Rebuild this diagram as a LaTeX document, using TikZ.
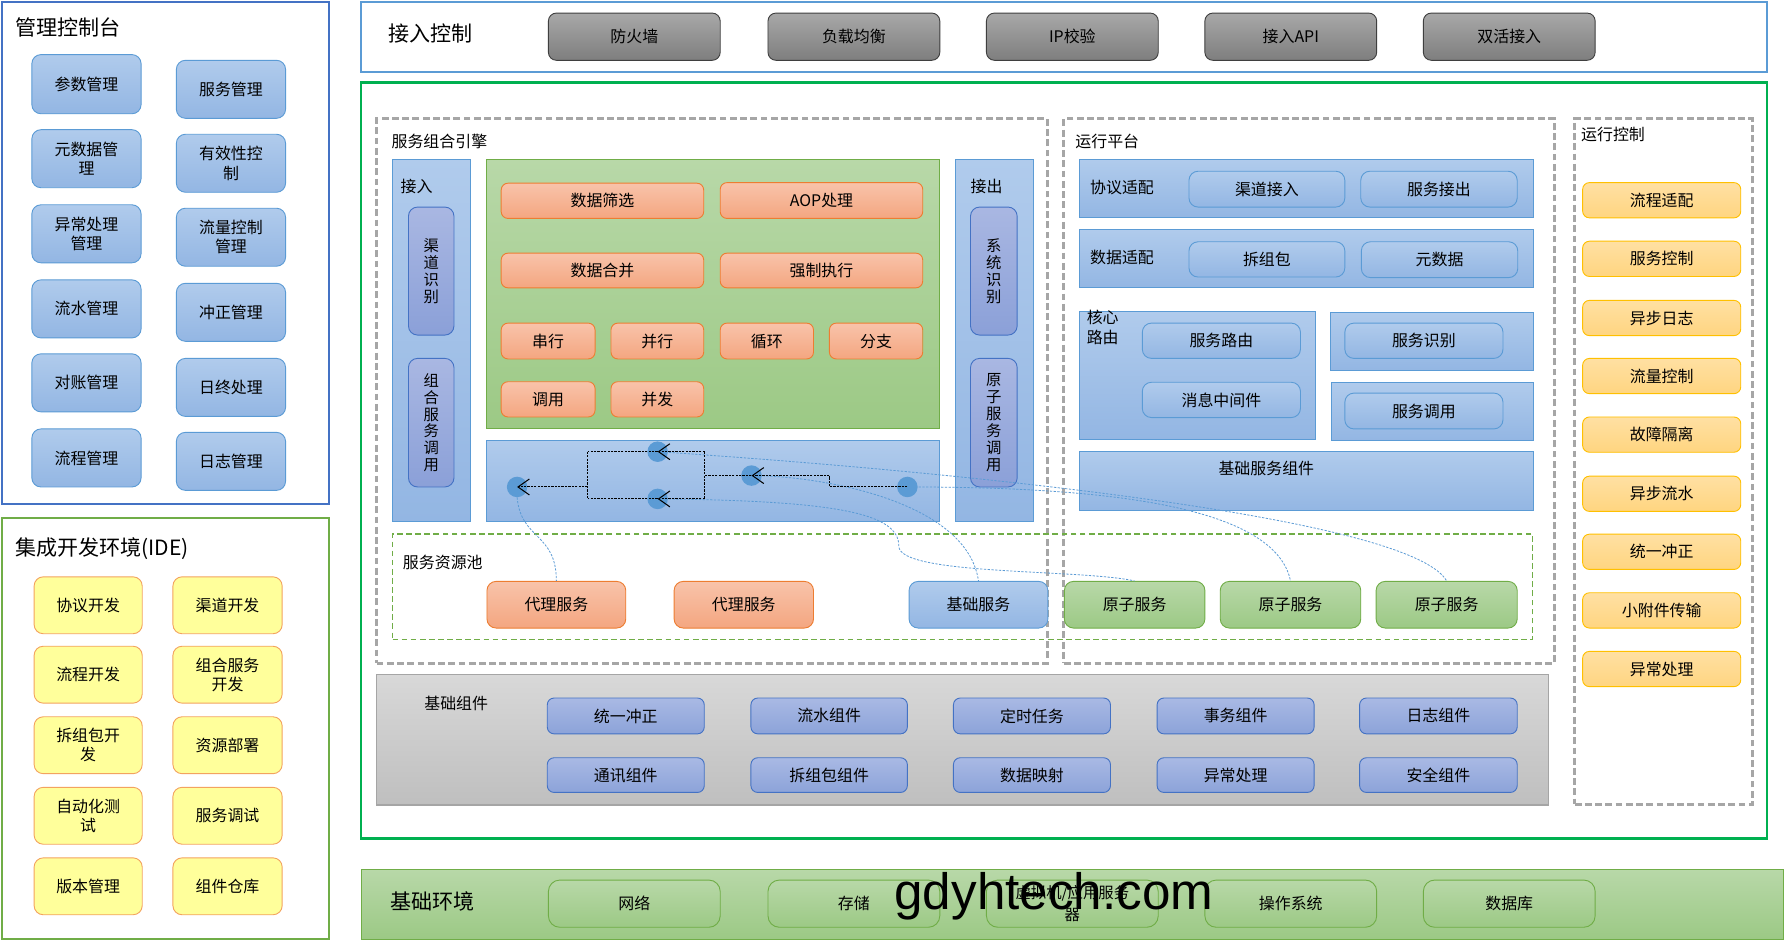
\documentclass[tikz,border=0pt]{standalone}
\usepackage{fontspec}
\setmainfont{Noto Sans CJK SC}
\newfontfamily\wmfont{Liberation Sans}
\usetikzlibrary{arrows.meta}
\definecolor{cMgmt}{HTML}{4472C4}
\definecolor{cAcc}{HTML}{5B9BD5}
\definecolor{cIDE}{HTML}{70AD47}
\definecolor{cMain}{HTML}{00B050}
\definecolor{bTop}{HTML}{B0CBEC}
\definecolor{bBot}{HTML}{93B6E3}
\definecolor{pTop}{HTML}{A9B7E2}
\definecolor{pBot}{HTML}{8BA0D8}
\definecolor{sTop}{HTML}{F8C3AA}
\definecolor{sBot}{HTML}{F4A680}
\definecolor{sBor}{HTML}{ED7D31}
\definecolor{gTop}{HTML}{B8D8A8}
\definecolor{gBot}{HTML}{9CC985}
\definecolor{yFill}{HTML}{FFFF9B}
\definecolor{yBor}{HTML}{F3A35F}
\definecolor{oTop}{HTML}{FFE0A3}
\definecolor{oBot}{HTML}{FFD580}
\definecolor{oBor}{HTML}{FFC000}
\definecolor{gyTop}{HTML}{A8A8A8}
\definecolor{gyBot}{HTML}{7E7E7E}
\definecolor{gyBor}{HTML}{3F3F3F}
\definecolor{bgTop}{HTML}{D8D8D8}
\definecolor{bgBot}{HTML}{BFBFBF}
\definecolor{bgBor}{HTML}{A5A5A5}
\definecolor{cbTop}{HTML}{A9B9E4}
\definecolor{cbBot}{HTML}{8CA3D9}
\definecolor{dGray}{HTML}{A6A6A6}
\newcommand\rbox[7]{\node[#1, minimum width={(#5)-(#3)}, minimum height={(#6)-(#4)}] (#2) at ({((#3)+(#5))/2},{((#4)+(#6))/2}) {#7};}
\begin{document}
\begin{tikzpicture}[x=1pt,y=-1pt,
  every node/.style={font=\fontsize{14}{17}\selectfont, inner sep=0pt, align=center},
  outerbox/.style={draw, line width=2pt, fill=white},
  mbtn/.style={rounded corners=8pt, draw=cAcc, line width=0.8pt, top color=bTop, bottom color=bBot},
  ybtn/.style={rounded corners=8pt, draw=yBor, line width=0.8pt, fill=yFill},
  gbtn/.style={rounded corners=7pt, draw=gyBor, line width=0.8pt, top color=gyTop, bottom color=gyBot},
  panel/.style={draw=cAcc, line width=0.8pt, top color=bTop, bottom color=bBot},
  pill/.style={rounded corners=8pt, draw=cMgmt, line width=0.8pt, top color=pTop, bottom color=pBot, font=\fontsize{13.5}{14.8}\selectfont},
  sbtn/.style={rounded corners=6pt, draw=sBor, line width=0.8pt, top color=sTop, bottom color=sBot},
  grbtn/.style={rounded corners=8pt, draw=cIDE, line width=0.8pt, top color=gTop, bottom color=gBot},
  grpanel/.style={draw=cIDE, line width=0.8pt, top color=gTop, bottom color=gBot},
  obtn/.style={rounded corners=6pt, draw=oBor, line width=0.8pt, top color=oTop, bottom color=oBot},
  cbtn/.style={rounded corners=6pt, draw=cMgmt, line width=0.8pt, top color=cbTop, bottom color=cbBot},
  ebtn/.style={rounded corners=10pt, draw=cIDE, line width=0.8pt, top color=gTop, bottom color=gBot},
  dashgray/.style={draw=dGray, line width=2.5pt, dash pattern=on 6pt off 3pt},
  dashgreen/.style={draw=cIDE, line width=1.6pt, dash pattern=on 5pt off 3pt},
  title/.style={anchor=west, font=\fontsize{18.5}{20}\selectfont},
  lbl/.style={anchor=west},
  dotnode/.style={circle, fill=cAcc, minimum size=18pt, draw=none},
  flow/.style={draw=black, line width=0.9pt, dash pattern=on 2pt off 1pt},
  fltip/.style={-{Straight Barb[length=10pt,width=14pt]}},
  conn/.style={draw=cAcc, line width=0.7pt, dash pattern=on 2pt off 1.3pt}
]
\useasboundingbox (0,0) rectangle (1568,826);
\fill[white] (0,0) rectangle (1568,826);

% ===== 管理控制台 =====
\rbox{outerbox, draw=cMgmt}{mgmt}{1.5}{1.5}{289}{443}{}
\node[title] (tMgmt) at (13,24) {管理控制台};
\rbox{mbtn}{m1}{28}{48}{124}{100}{参数管理}
\rbox{mbtn}{m2}{28}{114}{124}{165}{元数据管\\理}
\rbox{mbtn}{m3}{28}{180}{124}{231}{异常处理\\管理}
\rbox{mbtn}{m4}{28}{246}{124}{297}{流水管理}
\rbox{mbtn}{m5}{28}{311}{124}{362}{对账管理}
\rbox{mbtn}{m6}{28}{377}{124}{428}{流程管理}
\rbox{mbtn}{n1}{155}{53}{251}{104}{服务管理}
\rbox{mbtn}{n2}{155}{118}{251}{169}{有效性控\\制}
\rbox{mbtn}{n3}{155}{183}{251}{234}{流量控制\\管理}
\rbox{mbtn}{n4}{155}{249}{251}{300}{冲正管理}
\rbox{mbtn}{n5}{155}{315}{251}{366}{日终处理}
\rbox{mbtn}{n6}{155}{380}{251}{431}{日志管理}

% ===== IDE =====
\rbox{outerbox, draw=cIDE}{ide}{1.5}{455}{289}{825}{}
\node[title] (tIde) at (13,482.5) {集成开发环境(IDE)};
\rbox{ybtn}{i1}{30}{507}{125}{557}{协议开发}
\rbox{ybtn}{i2}{30}{568}{125}{618}{流程开发}
\rbox{ybtn}{i3}{30}{630}{125}{680}{拆组包开\\发}
\rbox{ybtn}{i4}{30}{692}{125}{742}{自动化测\\试}
\rbox{ybtn}{i5}{30}{754}{125}{804}{版本管理}
\rbox{ybtn}{j1}{152}{507}{248}{557}{渠道开发}
\rbox{ybtn}{j2}{152}{568}{248}{618}{组合服务\\开发}
\rbox{ybtn}{j3}{152}{630}{248}{680}{资源部署}
\rbox{ybtn}{j4}{152}{692}{248}{742}{服务调试}
\rbox{ybtn}{j5}{152}{754}{248}{804}{组件仓库}

% ===== 接入控制 =====
\rbox{outerbox, draw=cAcc}{acc}{317}{1.5}{1553}{63.5}{}
\node[title] (tAcc) at (341,29.5) {接入控制};
\rbox{gbtn}{g1}{482}{11.5}{633}{53}{防火墙}
\rbox{gbtn}{g2}{675}{11.5}{826}{53}{负载均衡}
\rbox{gbtn}{g3}{867}{11.5}{1018}{53}{IP校验}
\rbox{gbtn}{g4}{1059}{11.5}{1210}{53}{接入API}
\rbox{gbtn}{g5}{1251}{11.5}{1402}{53}{双活接入}

% ===== main green box =====
\rbox{outerbox, draw=cMain}{mainbox}{317}{72.5}{1553}{737}{}

% ----- 服务组合引擎 -----
\rbox{dashgray}{engine}{331}{104.5}{920.5}{583}{}
\node[lbl] (tEngine) at (344,124) {服务组合引擎};
\rbox{panel}{inP}{345}{140}{413.5}{458.5}{}
\node[lbl] (tIn) at (352,164) {接入};
\rbox{pill}{pl1}{359}{182}{399}{294.5}{渠\\道\\识\\别}
\rbox{pill}{pl2}{359}{315}{399}{428}{组\\合\\服\\务\\调\\用}
\rbox{grpanel}{grP}{427.5}{140}{825.5}{377}{}
\rbox{sbtn}{s1}{440.5}{161}{618.5}{192}{数据筛选}
\rbox{sbtn}{s2}{633}{160.5}{811}{192}{AOP处理}
\rbox{sbtn}{s3}{440.5}{222.5}{618.5}{253}{数据合并}
\rbox{sbtn}{s4}{633}{222.5}{811}{253}{强制执行}
\rbox{sbtn}{s5}{440.5}{284}{523}{315.5}{串行}
\rbox{sbtn}{s6}{537}{284}{618.5}{315.5}{并行}
\rbox{sbtn}{s7}{633}{284}{715}{315.5}{循环}
\rbox{sbtn}{s8}{729}{284}{811}{315.5}{分支}
\rbox{sbtn}{s9}{440.5}{335.5}{523}{366.5}{调用}
\rbox{sbtn}{s10}{537}{335.5}{618.5}{366.5}{并发}
\rbox{panel}{flP}{427.5}{387}{825.5}{458.5}{}
\rbox{panel}{outP}{840}{140}{908.5}{458.5}{}
\node[lbl] (tOut) at (853,164) {接出};
\rbox{pill}{pl3}{853}{182}{894}{294.5}{系\\统\\识\\别}
\rbox{pill}{pl4}{853}{315}{894}{428}{原\\子\\服\\务\\调\\用}

% ----- 运行平台 -----
\rbox{dashgray}{runtime}{935}{104.5}{1366}{583}{}
\node[lbl] (tRun) at (945,124.5) {运行平台};
\rbox{panel}{pA}{949}{140}{1348}{191.5}{}
\node[lbl] (tA) at (958,164.5) {协议适配};
\rbox{mbtn}{a1}{1045}{150.5}{1182}{182}{渠道接入}
\rbox{mbtn}{a2}{1196}{150.5}{1333.5}{182}{服务接出}
\rbox{panel}{pB}{949}{201.5}{1348}{253}{}
\node[lbl] (tB) at (958,226.5) {数据适配};
\rbox{mbtn}{b1}{1045}{212.5}{1182}{243.5}{拆组包}
\rbox{mbtn}{b2}{1196.5}{212.5}{1334}{244}{元数据}
\rbox{panel}{pC}{949}{273.5}{1156}{386.5}{}
\node[anchor=west, align=left, font=\fontsize{14}{17.5}\selectfont] (tC) at (955,287.5) {核心\\路由};
\rbox{mbtn}{c1}{1004}{284}{1143}{315}{服务路由}
\rbox{mbtn}{c2}{1004}{336}{1143}{367}{消息中间件}
\rbox{panel}{pD}{1169}{275}{1347.5}{326}{}
\rbox{mbtn}{d1}{1182}{284}{1321}{315}{服务识别}
\rbox{panel}{pE}{1170}{336}{1348}{387}{}
\rbox{mbtn}{e1}{1182}{345.5}{1321}{377}{服务调用}
\rbox{panel}{pF}{949}{397}{1348}{449}{}
\node (tF) at (1113,412) {基础服务组件};

% ----- 服务资源池 -----
\rbox{dashgreen}{pool}{345}{469}{1347}{562}{}
\node[lbl] (tPool) at (354,494.5) {服务资源池};
\rbox{sbtn, rounded corners=8pt}{px1}{428}{511}{550}{552}{代理服务}
\rbox{sbtn, rounded corners=8pt}{px2}{592.5}{511}{715}{552}{代理服务}
\rbox{mbtn}{bs}{799}{511}{921}{552}{基础服务}
\rbox{grbtn}{at1}{935.5}{511}{1059}{552}{原子服务}
\rbox{grbtn}{at2}{1072.5}{511}{1196}{552}{原子服务}
\rbox{grbtn}{at3}{1209.5}{511}{1333.5}{552}{原子服务}

% ----- 运行控制 -----
\rbox{dashgray}{runctl}{1384}{104.5}{1540}{707}{}
\node[lbl] (tCtl) at (1389.5,118.5) {运行控制};
\rbox{obtn}{o1}{1391}{160.5}{1530}{191.5}{流程适配}
\rbox{obtn}{o2}{1391}{212}{1530}{243}{服务控制}
\rbox{obtn}{o3}{1391}{264}{1530}{295}{异步日志}
\rbox{obtn}{o4}{1391}{315}{1530}{346}{流量控制}
\rbox{obtn}{o5}{1391}{366.5}{1530}{397.5}{故障隔离}
\rbox{obtn}{o6}{1391}{418.5}{1530}{449.5}{异步流水}
\rbox{obtn}{o7}{1391}{469.5}{1530}{500.5}{统一冲正}
\rbox{obtn}{o8}{1391}{521}{1530}{552}{小附件传输}
\rbox{obtn}{o9}{1391}{572.5}{1530}{603.5}{异常处理}

% ----- 基础组件 -----
\rbox{draw=bgBor, line width=1pt, top color=bgTop, bottom color=bgBot}{basecomp}{331}{593}{1361}{707.5}{}
\node (tBase) at (401,618.5) {基础组件};
\rbox{cbtn}{k1}{481}{613.5}{619}{645}{统一冲正}
\rbox{cbtn}{k2}{660}{613.5}{797.5}{645}{流水组件}
\rbox{cbtn}{k3}{838}{613.5}{976}{645}{定时任务}
\rbox{cbtn}{k4}{1017}{613.5}{1155}{645}{事务组件}
\rbox{cbtn}{k5}{1195}{613.5}{1333.5}{645}{日志组件}
\rbox{cbtn}{l1}{481}{666}{619}{696.5}{通讯组件}
\rbox{cbtn}{l2}{660}{666}{797.5}{696.5}{拆组包组件}
\rbox{cbtn}{l3}{838}{666}{976}{696.5}{数据映射}
\rbox{cbtn}{l4}{1017}{666}{1155}{696.5}{异常处理}
\rbox{cbtn}{l5}{1195}{666}{1333.5}{696.5}{安全组件}

% ===== 基础环境 =====
\rbox{grpanel, line width=1pt}{env}{317.5}{764}{1567.5}{825.5}{}
\node[title] (tEnv) at (343,792) {基础环境};
\rbox{ebtn}{v1}{482}{773.5}{633}{815}{网络}
\rbox{ebtn}{v2}{675}{773.5}{826}{815}{存储}
\rbox{ebtn, font=\fontsize{13.5}{19}\selectfont}{v3}{867}{773.5}{1018}{815}{虚拟机/应用服务\\器}
\rbox{ebtn}{v4}{1059}{773.5}{1210}{815}{操作系统}
\rbox{ebtn}{v5}{1251}{773.5}{1402}{815}{数据库}

% ===== flow in composition engine =====
\coordinate (bTL) at (516.5,397);
\coordinate (bTR) at (619.5,397);
\coordinate (bBL) at (516.5,438.5);
\coordinate (bBR) at (619.5,438.5);
\coordinate (bLm) at (516.5,428);
\coordinate (bRm) at (619.5,418);
\coordinate (sA) at (729,418);
\coordinate (sB) at (729,428);
\node[dotnode] (dL) at (454.5,428) {};
\node[dotnode] (dT) at (578,397) {};
\node[dotnode] (dB) at (578,438.5) {};
\node[dotnode] (dM) at (660.5,418) {};
\node[dotnode] (dR) at (797.5,428) {};

% dotted connectors to the resource pool
\draw[conn] (dL.south) .. controls (458,475) and (489,468) .. (px1.north);
\draw[conn] (dT.center) .. controls (850,415) and (1240,455) .. (at3.north);
\draw[conn] (dB.center) .. controls (740,440) and (790,452) .. (790,480) .. controls (790,506) and (950,500) .. (at1.north);
\draw[conn] (dM.center) .. controls (720,418) and (850,440) .. (bs.north);
\draw[conn] (dR.center) .. controls (950,428) and (1120,440) .. (at2.north);

% black dashed flow lines
\draw[flow] (bTR) -- (bBR);
\draw[flow] (bTL) -- (bBL);
\draw[flow] (dT.center) -- (bTL);
\draw[flow] (dB.center) -- (bBL);
\draw[flow] (dM.center) -- (bRm);
\draw[flow] (dR.center) -- (sB) -- (sA);
\draw[flow, fltip] (bTR) -- (dT.center);
\draw[flow, fltip] (bBR) -- (dB.center);
\draw[flow, fltip] (bLm) -- (dL.center);
\draw[flow, fltip] (sA) -- (dM.center);

% watermark
\node[anchor=base west, font=\wmfont\fontsize{45}{45}\selectfont] (wm) at (786,799.6) {gdyhtech.com};
\end{tikzpicture}
\end{document}
